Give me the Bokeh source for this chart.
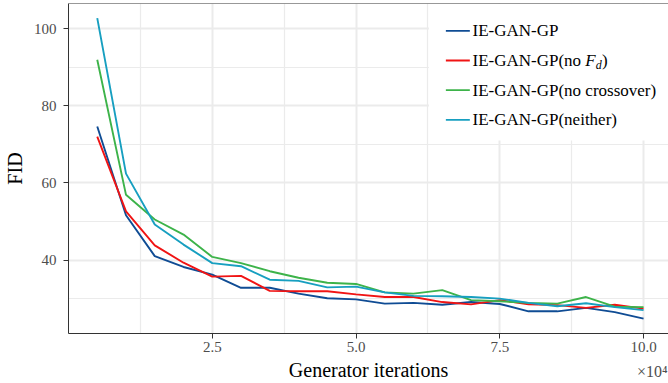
from bokeh.plotting import figure
from bokeh.models import Range1d, FixedTicker, Label, BoxAnnotation, Span, NumeralTickFormatter, Title
from bokeh.embed import file_html
from bokeh.resources import INLINE

# ---------------- data ----------------
iterations = [0.5, 1.0, 1.5, 2.0, 2.5, 3.0, 3.5, 4.0, 4.5, 5.0,
              5.5, 6.0, 6.5, 7.0, 7.5, 8.0, 8.5, 9.0, 9.5, 10.0]  # x 10^4

fid_iegan = [74.6, 51.6, 41.0, 38.2, 36.2, 32.8, 32.8, 31.3, 30.1, 29.8,
             28.7, 28.9, 28.4, 29.1, 28.6, 26.7, 26.7, 27.6, 26.5, 24.8]
fid_no_fd = [72.0, 52.6, 43.8, 39.3, 35.7, 35.9, 32.0, 31.9, 31.9, 31.1,
             30.4, 30.4, 29.1, 28.5, 29.6, 28.5, 28.3, 27.6, 28.4, 27.4]
fid_no_cross = [91.9, 56.9, 50.5, 46.6, 40.8, 39.2, 37.1, 35.4, 34.1, 33.8,
                31.6, 31.3, 32.2, 29.6, 29.3, 28.9, 28.7, 30.4, 27.9, 27.8]
fid_neither = [102.7, 62.4, 49.2, 44.0, 39.2, 38.4, 34.9, 34.6, 32.9, 33.1,
               31.6, 30.7, 30.6, 30.4, 30.0, 28.9, 28.0, 28.8, 27.8, 27.0]

series = [fid_iegan, fid_no_fd, fid_no_cross, fid_neither]
legend_labels = ["IE-GAN-GP", "IE-GAN-GP(no F_d)", "IE-GAN-GP(no crossover)", "IE-GAN-GP(neither)"]
colors = ["#0F4C94", "#F01414", "#3DB34A", "#179FC0"]

x_ticks = [2.5, 5.0, 7.5, 10.0]
x_minor = [1.25, 3.75, 6.25, 8.75]
y_ticks = [40, 60, 80, 100]
y_minor = [30, 50, 70, 90]
x_multiplier = "×10⁴"

# ---------------- layout ----------------
W, H = 668, 383
FL, FT, FR, FB = 67, 3, 668, 333
x_start, x_end = 0.0, 10.434
y_start, y_end = 20.95, 106.5

SERIF = "Liberation Serif"
TICK_COLOR = "#4D4D4D"
DARK = "#333333"


def data_x(px):
    return x_start + (px - FL) * (x_end - x_start) / (FR - FL)


def data_y(py):
    return y_end - (py - FT) * (y_end - y_start) / (FB - FT)


p = figure(width=W, height=H, x_range=Range1d(x_start, x_end), y_range=Range1d(y_start, y_end),
           output_backend="svg", toolbar_location=None,
           min_border_left=FL, min_border_right=0, min_border_top=FT, min_border_bottom=H - FB)
p.outline_line_color = None
p.background_fill_color = "white"
p.border_fill_color = "white"

# axes
p.xaxis.ticker = FixedTicker(ticks=x_ticks, minor_ticks=x_minor)
p.yaxis.ticker = FixedTicker(ticks=y_ticks, minor_ticks=y_minor)
p.xaxis.formatter = NumeralTickFormatter(format="0.0")
for ax in (p.xaxis, p.yaxis):
    ax.axis_line_color = DARK
    ax.axis_line_width = 1
    ax.major_tick_line_color = DARK
    ax.major_tick_out = 5
    ax.major_tick_in = 0
    ax.minor_tick_line_color = None
    ax.major_label_text_font = SERIF
    ax.major_label_text_font_size = "15px"
    ax.major_label_text_color = TICK_COLOR
    ax.axis_label_text_font = SERIF
    ax.axis_label_text_font_style = "normal"
    ax.axis_label_text_font_size = "20px"
    ax.axis_label_text_color = "black"

p.xaxis.axis_label = "Generator iterations"
p.yaxis.axis_label = "FID"
p.xaxis.major_label_standoff = 3
p.xaxis.axis_label_standoff = 4
p.yaxis.major_label_standoff = 7
p.yaxis.axis_label_standoff = 5

# multiplier beside the axis title (zero-height title pulled up next to the axis title)
p.add_layout(Title(text=x_multiplier, align="right", vertical_align="top", standoff=-42, offset=1,
                   text_font=SERIF, text_font_size="16px", text_font_style="normal",
                   text_color=TICK_COLOR), "below")

# grid
for g in (p.xgrid, p.ygrid):
    g.grid_line_color = "#EBEBEB"
    g.grid_line_width = 2
    g.minor_grid_line_color = "#EBEBEB"
    g.minor_grid_line_width = 1.2

# data lines
for vals, col in zip(series, colors):
    p.line(iterations, vals, line_color=col, line_width=1.9)

# ---------------- legend (manual, to allow italic F with subscript d) ----------------
p.add_layout(BoxAnnotation(left=data_x(428), right=x_end, top=y_end, bottom=data_y(140),
                           fill_color="white", fill_alpha=1.0, line_color=None))
# top border of panel
p.add_layout(Span(location=y_end, dimension="width", line_color=DARK, line_width=1))

item_y = [30.3, 60.0, 89.7, 119.4]
text_x = 471.7
for name, col, cy in zip(legend_labels, colors, item_y):
    p.add_layout(BoxAnnotation(left=data_x(445), right=data_x(469),
                               top=data_y(cy - 0.9), bottom=data_y(cy + 0.9),
                               fill_color=col, fill_alpha=1.0, line_color=None))
    if "F_d" in name:
        head = name.split("F_d")[0].rstrip()
        tail = name.split("F_d")[1]
        p.add_layout(Label(x=data_x(text_x), y=data_y(cy), text=head, text_baseline="middle",
                           text_font=SERIF, text_font_size="17px", text_color="black"))
        fx = text_x + 112.8
        p.add_layout(Label(x=data_x(fx), y=data_y(cy), text="F", text_baseline="middle",
                           text_font=SERIF, text_font_style="italic",
                           text_font_size="17px", text_color="black"))
        dx = fx + 10.6
        p.add_layout(Label(x=data_x(dx), y=data_y(cy + 4.5), text="d", text_baseline="middle",
                           text_font=SERIF, text_font_style="italic",
                           text_font_size="12px", text_color="black"))
        p.add_layout(Label(x=data_x(dx + 6.3), y=data_y(cy), text=tail, text_baseline="middle",
                           text_font=SERIF, text_font_size="17px", text_color="black"))
    else:
        p.add_layout(Label(x=data_x(text_x), y=data_y(cy), text=name, text_baseline="middle",
                           text_font=SERIF, text_font_size="17px", text_color="black"))

open("out.html", "w").write(file_html(p, INLINE))
